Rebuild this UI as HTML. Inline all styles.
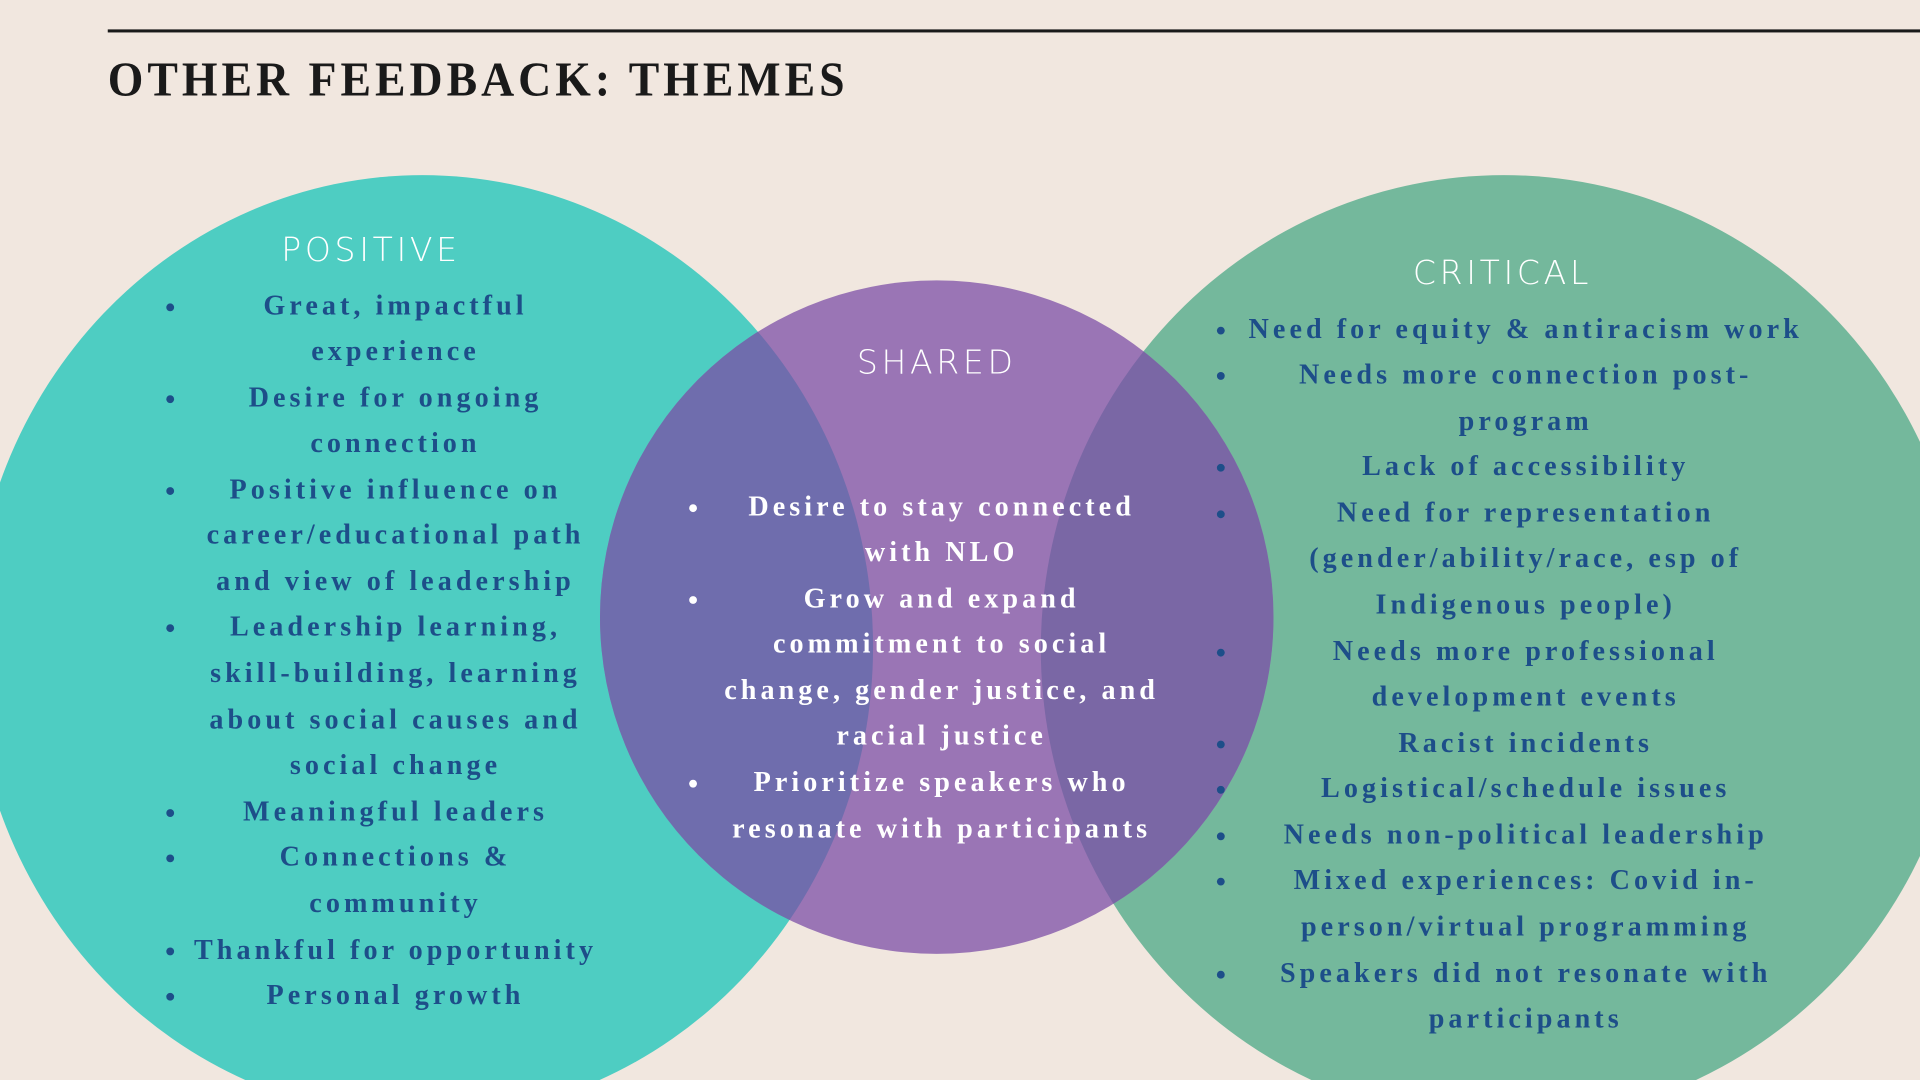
<!DOCTYPE html>
<html><head><meta charset="utf-8"><style>
html,body{margin:0;padding:0;background:#F1E7DF;}
svg{display:block}
.t{font-family:"Liberation Serif",serif;font-weight:bold;font-size:23px;letter-spacing:3.3px;text-anchor:middle}
.b{fill:#1D4E89}
.w{fill:#FFFFFF}
.h{font-family:"DejaVu Sans","Liberation Sans",sans-serif;font-weight:300;font-size:27px;letter-spacing:3px;fill:#fff;text-anchor:middle}
</style></head><body>
<svg width="1920" height="1080" viewBox="0 0 1568 882" xmlns="http://www.w3.org/2000/svg">
<defs>
<clipPath id="cl"><ellipse cx="345" cy="528" rx="368" ry="385"/></clipPath>
<clipPath id="cr"><ellipse cx="1228" cy="530" rx="378" ry="387"/></clipPath>
</defs>
<rect width="1568" height="882" fill="#F1E7DF"/>
<rect x="88" y="24" width="1480" height="2.5" fill="#1a1a1a"/>
<text x="88" y="78" font-family="Liberation Serif,serif" font-weight="bold" font-size="40" letter-spacing="3.5" fill="#1a1a1a" textLength="605" lengthAdjust="spacingAndGlyphs">OTHER FEEDBACK: THEMES</text>
<ellipse cx="345" cy="528" rx="368" ry="385" fill="#4ECDC2"/>
<ellipse cx="1228" cy="530" rx="378" ry="387" fill="#74B89C"/>
<circle cx="765" cy="504" r="275" fill="#9A75B5"/>
<circle cx="765" cy="504" r="275" fill="#6F6DAD" clip-path="url(#cl)"/>
<circle cx="765" cy="504" r="275" fill="#7A67A5" clip-path="url(#cr)"/>
<text class="h" x="303" y="213">POSITIVE</text>
<text class="h" x="1227" y="232">CRITICAL</text>
<text class="h" x="765" y="305">SHARED</text>
<g class="t b">
<text x="323" y="257">Great, impactful</text>
<text x="323" y="294">experience</text>
<text x="323" y="332">Desire for ongoing</text>
<text x="323" y="369">connection</text>
<text x="323" y="407">Positive influence on</text>
<text x="323" y="444">career/educational path</text>
<text x="323" y="482">and view of leadership</text>
<text x="323" y="519">Leadership learning,</text>
<text x="323" y="557">skill-building, learning</text>
<text x="323" y="595">about social causes and</text>
<text x="323" y="632">social change</text>
<text x="323" y="670">Meaningful leaders</text>
<text x="323" y="707">Connections &amp;</text>
<text x="323" y="745">community</text>
<text x="323" y="783">Thankful for opportunity</text>
<text x="323" y="820">Personal growth</text>
</g>
<g class="b">
<circle cx="139" cy="251" r="3.2"/><circle cx="139" cy="326" r="3.2"/><circle cx="139" cy="401" r="3.2"/><circle cx="139" cy="513" r="3.2"/><circle cx="139" cy="664" r="3.2"/><circle cx="139" cy="701" r="3.2"/><circle cx="139" cy="777" r="3.2"/><circle cx="139" cy="814" r="3.2"/>
<circle cx="997" cy="270" r="3.2"/><circle cx="997" cy="307" r="3.2"/><circle cx="997" cy="382" r="3.2"/><circle cx="997" cy="420" r="3.2"/><circle cx="997" cy="533" r="3.2"/><circle cx="997" cy="608" r="3.2"/><circle cx="997" cy="645" r="3.2"/><circle cx="997" cy="683" r="3.2"/><circle cx="997" cy="720" r="3.2"/><circle cx="997" cy="796" r="3.2"/>
</g>
<g class="t w">
<text x="769" y="421">Desire to stay connected</text>
<text x="769" y="458">with NLO</text>
<text x="769" y="496">Grow and expand</text>
<text x="769" y="533">commitment to social</text>
<text x="769" y="571">change, gender justice, and</text>
<text x="769" y="608">racial justice</text>
<text x="769" y="646">Prioritize speakers who</text>
<text x="769" y="684">resonate with participants</text>
</g>
<g class="w">
<circle cx="566" cy="415" r="3.2"/><circle cx="566" cy="490" r="3.2"/><circle cx="566" cy="640" r="3.2"/>
</g>
<g class="t b">
<text x="1246" y="276">Need for equity &amp; antiracism work</text>
<text x="1246" y="313">Needs more connection post-</text>
<text x="1246" y="351">program</text>
<text x="1246" y="388">Lack of accessibility</text>
<text x="1246" y="426">Need for representation</text>
<text x="1246" y="463">(gender/ability/race, esp of</text>
<text x="1246" y="501">Indigenous people)</text>
<text x="1246" y="539">Needs more professional</text>
<text x="1246" y="576">development events</text>
<text x="1246" y="614">Racist incidents</text>
<text x="1246" y="651">Logistical/schedule issues</text>
<text x="1246" y="689">Needs non-political leadership</text>
<text x="1246" y="726">Mixed experiences: Covid in-</text>
<text x="1246" y="764">person/virtual programming</text>
<text x="1246" y="802">Speakers did not resonate with</text>
<text x="1246" y="839">participants</text>
</g>
</svg>
</body></html>
